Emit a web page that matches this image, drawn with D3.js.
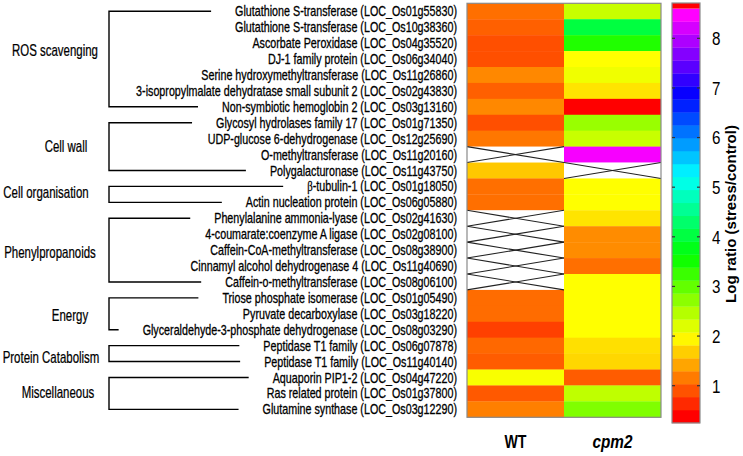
<!DOCTYPE html>
<html><head><meta charset="utf-8">
<script src="https://cdn.jsdelivr.net/npm/d3@7/dist/d3.min.js"></script>
<style>
html,body{margin:0;padding:0;background:#fff;}
svg{display:block;}
</style></head>
<body>
<svg id="chart" width="743" height="456"></svg>
<script>
// ---------------- data ----------------
const genes = [
  "Glutathione S-transferase (LOC_Os01g55830)",
  "Glutathione S-transferase (LOC_Os10g38360)",
  "Ascorbate Peroxidase (LOC_Os04g35520)",
  "DJ-1 family protein (LOC_Os06g34040)",
  "Serine hydroxymethyltransferase (LOC_Os11g26860)",
  "3-isopropylmalate dehydratase small subunit 2 (LOC_Os02g43830)",
  "Non-symbiotic hemoglobin 2 (LOC_Os03g13160)",
  "Glycosyl hydrolases family 17 (LOC_Os01g71350)",
  "UDP-glucose 6-dehydrogenase (LOC_Os12g25690)",
  "O-methyltransferase (LOC_Os11g20160)",
  "Polygalacturonase (LOC_Os11g43750)",
  "β-tubulin-1 (LOC_Os01g18050)",
  "Actin nucleation protein (LOC_Os06g05880)",
  "Phenylalanine ammonia-lyase (LOC_Os02g41630)",
  "4-coumarate:coenzyme A ligase (LOC_Os02g08100)",
  "Caffein-CoA-methyltransferase (LOC_Os08g38900)",
  "Cinnamyl alcohol dehydrogenase 4 (LOC_Os11g40690)",
  "Caffein-o-methyltransferase (LOC_Os08g06100)",
  "Triose phosphate isomerase (LOC_Os01g05490)",
  "Pyruvate decarboxylase (LOC_Os03g18220)",
  "Glyceraldehyde-3-phosphate dehydrogenase (LOC_Os08g03290)",
  "Peptidase T1 family (LOC_Os06g07878)",
  "Peptidase T1 family (LOC_Os11g40140)",
  "Aquaporin PIP1-2 (LOC_Os04g47220)",
  "Ras related protein (LOC_Os01g37800)",
  "Glutamine synthase (LOC_Os03g12290)"
];
const groups = ["ROS scavenging","Cell wall","Cell organisation","Phenylpropanoids","Energy","Protein Catabolism","Miscellaneous"];
const groupSizes = [7,4,2,5,3,2,3];
const samples = ["WT","cpm2"];
// log ratio (stress/control); null = not detected
const wtValues = [0.98,0.88,0.77,0.77,1.14,0.88,1.14,0.77,1.03,null,1.56,0.98,0.98,
                  null,null,null,null,null,0.96,0.96,0.67,0.93,0.85,1.96,0.83,1.08];
const cpm2Values = [2.28,4.01,3.38,1.92,2.02,1.74,9.0,2.59,2.28,8.55,null,1.92,1.92,
                    1.74,1.17,1.17,0.98,1.92,1.92,1.92,1.92,1.72,1.66,0.85,2.34,2.75];
const colorTicks = [1,2,3,4,5,6,7,8];
const colorMin = 0.25, colorMax = 8.6, colorBands = 32;

// ---------------- layout ----------------
const svg = d3.select("#chart");
const sans = "'Liberation Sans',Arial,sans-serif";
const hm = {x0:467, x1:661, y0:3.3, y1:417.3};
const cb = {x0:672, x1:700};
const groupLabelX = [55,66,46,50,70,51,58];
const groupLabelDy = [-9,0,-2,2,1,4,-1];
const labelRight = 457;
const bracketX = 109;

// helper: place a text at (x,y), compressed horizontally by factor k
function placed(parent, x, y, k, rot) {
  return parent.append("g")
    .attr("transform", `translate(${x},${y})` + (rot ? ` rotate(${rot})` : "") + ` scale(${k},1)`)
    .append("text").attr("font-family", sans);
}

const x = d3.scaleBand().domain(samples).range([hm.x0, hm.x1]);
const y = d3.scaleBand().domain(d3.range(genes.length)).range([hm.y0, hm.y1]);
const hue = d3.scaleLinear().domain([colorMin, colorMax]).range([0,300]).clamp(true);
const color = v => v > colorMax ? "#ff0000" : d3.hsl(hue(v), 1, 0.5).formatHex();
const cy = d3.scaleLinear().domain([1,8]).range([385.7, 38.3]);

// ---------------- heatmap ----------------
const cells = [];
genes.forEach((g,i) => {
  cells.push({s:"WT", i, v: wtValues[i]});
  cells.push({s:"cpm2", i, v: cpm2Values[i]});
});
const cg = svg.append("g");
cg.selectAll("rect.cell").data(cells).join("rect")
  .attr("class","cell")
  .attr("x", d => x(d.s)).attr("y", d => y(d.i))
  .attr("width", x.bandwidth()).attr("height", y.bandwidth() + 0.3)
  .attr("fill", d => d.v == null ? "#fff" : color(d.v));
const miss = cells.filter(d => d.v == null);
cg.selectAll("line.xa").data(miss).join("line")
  .attr("x1", d => x(d.s)).attr("y1", d => y(d.i))
  .attr("x2", d => x(d.s) + x.bandwidth()).attr("y2", d => y(d.i) + y.bandwidth())
  .attr("stroke","#222").attr("stroke-width",1.1);
cg.selectAll("line.xb").data(miss).join("line")
  .attr("x1", d => x(d.s)).attr("y1", d => y(d.i) + y.bandwidth())
  .attr("x2", d => x(d.s) + x.bandwidth()).attr("y2", d => y(d.i))
  .attr("stroke","#222").attr("stroke-width",1.1);
svg.append("rect").attr("x",hm.x0).attr("y",hm.y0)
  .attr("width",hm.x1-hm.x0).attr("height",hm.y1-hm.y0)
  .attr("fill","none").attr("stroke","#8a8a8a").attr("stroke-width",1.2);

// sample labels (condensed bold)
const sampleWidths = {WT: 22, cpm2: 40};
samples.forEach(s => {
  const t = placed(svg, x(s) + x.bandwidth()/2, 448, 1)
    .attr("text-anchor","middle").attr("font-weight","bold").attr("font-size",18)
    .attr("font-style", s === "WT" ? "normal" : "italic").text(s);
  const k = sampleWidths[s] / t.node().getComputedTextLength();
  d3.select(t.node().parentNode).attr("transform", `translate(${x(s) + x.bandwidth()/2},448) scale(${k},1)`);
});

// ---------------- gene labels ----------------
const lgOuter = svg.append("g");
const lg = lgOuter.append("g");
const labels = lg.selectAll("text.gene").data(genes).join("text")
  .attr("class","gene")
  .attr("x", 0).attr("y", (d,i) => y(i) + y.bandwidth()/2)
  .attr("dy","0.36em").attr("text-anchor","end")
  .attr("font-family", sans).attr("font-size", 14).attr("fill","#000")
  .attr("stroke","#000").attr("stroke-width",0.3);
labels.each(function(d){
  const t = d3.select(this);
  if (d.startsWith("β")) {
    t.append("tspan").attr("font-family","'Liberation Serif',serif").text("β");
    t.append("tspan").text(d.slice(1));
  } else t.text(d);
});
const kLab = 222 / labels.node().getComputedTextLength();
lgOuter.attr("transform", `translate(${labelRight},0) scale(${kLab},1)`);
const starts = [];
labels.each(function(){ starts.push(labelRight - this.getComputedTextLength() * kLab); });

// ---------------- brackets & group labels ----------------
let idx = 0;
const bg = svg.append("g").attr("stroke","#000").attr("stroke-width",1.4).attr("fill","none");
let kGroup = null;
groups.forEach((g,gi) => {
  const a = idx, b = idx + groupSizes[gi] - 1;
  idx += groupSizes[gi];
  const ya = y(a) + y.bandwidth()/2, yb = y(b) + y.bandwidth()/2;
  const xa = starts[a] - 24, xb = starts[b] - 24;
  bg.append("path").attr("d", `M${xa},${ya}H${bracketX}V${yb}H${xb}`);
  const gy = (ya+yb)/2 + groupLabelDy[gi];
  const t = placed(svg, groupLabelX[gi], gy, 1)
    .attr("dy","0.36em").attr("text-anchor","middle").attr("font-size", 16)
    .attr("stroke","#000").attr("stroke-width",0.25).text(g);
  if (kGroup == null) kGroup = 86 / t.node().getComputedTextLength();
  d3.select(t.node().parentNode).attr("transform", `translate(${groupLabelX[gi]},${gy}) scale(${kGroup},1)`);
});

// ---------------- colorbar ----------------
const step = (colorMax - colorMin) / colorBands;
const bands = d3.range(colorBands).map(i => ({lo: colorMin + i*step, hi: colorMin + (i+1)*step, i}));
svg.selectAll("rect.band").data(bands).join("rect")
  .attr("x", cb.x0).attr("width", cb.x1 - cb.x0)
  .attr("y", d => cy(d.hi)).attr("height", d => cy(d.lo) - cy(d.hi) + 0.3)
  .attr("fill", d => d3.hsl(d.i/(colorBands-1)*300, 1, 0.5).formatHex());
const topY = 3;
svg.append("rect").attr("x", cb.x0).attr("width", cb.x1-cb.x0)
  .attr("y", topY).attr("height", cy(colorMax) - topY).attr("fill","#ff0000");
svg.append("rect").attr("x", cb.x0).attr("y", topY)
  .attr("width", cb.x1-cb.x0).attr("height", cy(colorMin) - topY)
  .attr("fill","none").attr("stroke","#8a8a8a").attr("stroke-width",1.2);
const tg = svg.append("g");
tg.selectAll("line.tl").data(colorTicks).join("line")
  .attr("x1", cb.x0).attr("x2", cb.x0 + 3).attr("y1", d => cy(d)).attr("y2", d => cy(d))
  .attr("stroke","#333").attr("stroke-width",1.2);
tg.selectAll("line.tr").data(colorTicks).join("line")
  .attr("x1", cb.x1 - 3).attr("x2", cb.x1).attr("y1", d => cy(d)).attr("y2", d => cy(d))
  .attr("stroke","#333").attr("stroke-width",1.2);
colorTicks.forEach(d => {
  placed(svg, 712, cy(d), 0.8).attr("dy","0.36em").attr("font-size", 19).text(d);
});
const cbl = placed(svg, 731, 214, 1, -90)
  .attr("text-anchor","middle").attr("dy","0.35em")
  .attr("font-weight","bold").attr("font-size",14.5)
  .text("Log ratio (stress/control)");
const kc = 178 / cbl.node().getComputedTextLength();
d3.select(cbl.node().parentNode).attr("transform", `translate(731,214) rotate(-90) scale(${kc},1)`);
</script>
</body></html>
